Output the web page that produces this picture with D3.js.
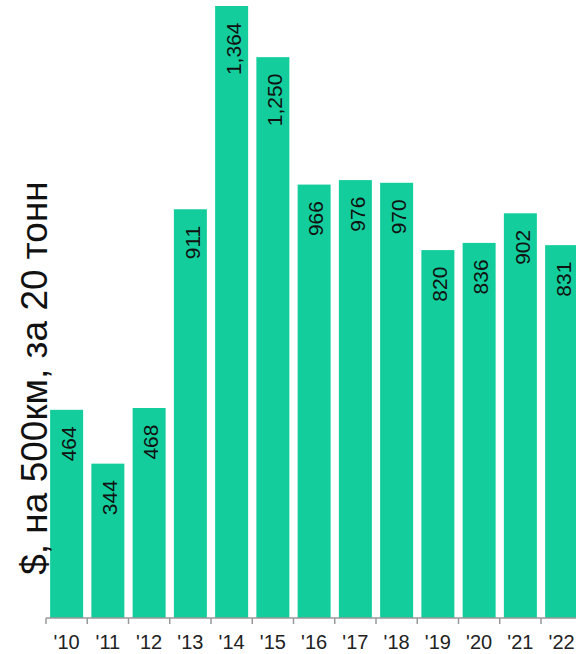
<!DOCTYPE html>
<html>
<head>
<meta charset="utf-8">
<script src="https://cdn.jsdelivr.net/npm/d3@7.9.0/dist/d3.min.js"></script>
<style>
  html, body { margin: 0; padding: 0; background: #fff; }
  svg { display: block; font-family: "Liberation Sans", Arial, sans-serif; }
</style>
</head>
<body>
<svg id="chart" width="576" height="654"></svg>
<script>
// data
const years = ["'10", "'11", "'12", "'13", "'14", "'15", "'16", "'17", "'18", "'19", "'20", "'21", "'22"];
const values = [464, 344, 468, 911, 1364, 1250, 966, 976, 970, 820, 836, 902, 831];
const yTitle = "$, на 500км, за 20 тонн";

const svg = d3.select("#chart");
const baseY = 618;
const left = 46;
const step = 41.25;

const x = d3.scaleBand()
    .domain(years)
    .range([left, left + step * years.length])
    .paddingInner(0.2)
    .paddingOuter(0.1);

const y = d3.scaleLinear()
    .domain([0, d3.max(values)])
    .range([baseY, 6]);

const data = years.map((yr, i) => ({ year: yr, value: values[i] }));

// bars
svg.append("g")
  .selectAll("rect")
  .data(data)
  .join("rect")
    .attr("x", d => x(d.year))
    .attr("y", d => y(d.value))
    .attr("width", x.bandwidth())
    .attr("height", d => baseY - y(d.value))
    .attr("fill", "#13ce9c");

// value labels, reading upward, ending just below the bar top
svg.append("g")
  .selectAll("text")
  .data(data)
  .join("text")
    .attr("transform", d => `translate(${x(d.year) + x.bandwidth() / 2 + 2},${y(d.value) + 16.5}) rotate(-90)`)
    .attr("dy", "0.35em")
    .attr("text-anchor", "end")
    .attr("font-size", 21)
    .attr("fill", "#111")
    .text(d => d3.format(",")(d.value));

// x axis: line with ticks at band edges, labels centred
const off = x.step() * x.paddingInner() / 2;
const axis = svg.append("g").attr("stroke", "#999").attr("stroke-width", 1.5);
axis.append("line")
    .attr("x1", left).attr("x2", 576)
    .attr("y1", baseY).attr("y2", baseY);
axis.selectAll("line.tick")
  .data(years)
  .join("line")
    .attr("class", "tick")
    .attr("x1", d => x(d) - off).attr("x2", d => x(d) - off)
    .attr("y1", baseY).attr("y2", baseY + 6);

svg.append("g")
  .selectAll("text")
  .data(years)
  .join("text")
    .attr("x", d => x(d) + x.bandwidth() / 2)
    .attr("y", 649)
    .attr("text-anchor", "middle")
    .attr("font-size", 20)
    .attr("fill", "#222")
    .text(d => d);

// y title
svg.append("text")
    .attr("transform", "translate(47,378) rotate(-90)")
    .attr("text-anchor", "middle")
    .attr("font-size", 37)
    .attr("fill", "#111")
    .text(yTitle);
</script>
</body>
</html>
